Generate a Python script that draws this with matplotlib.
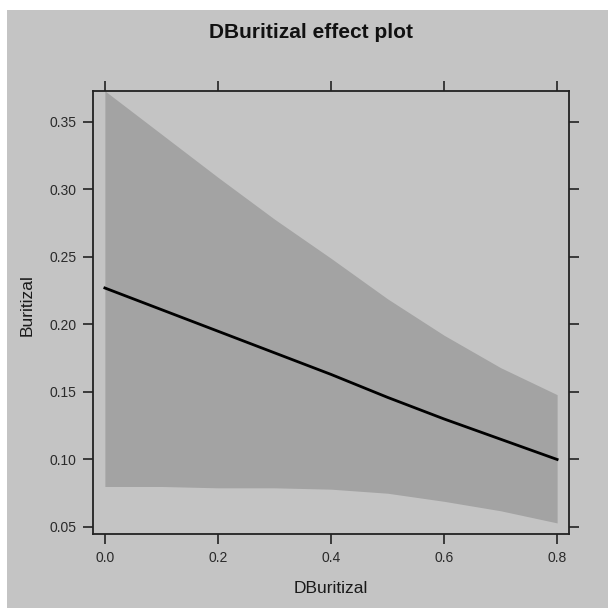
#!/usr/bin/env python3

"""
Effect plot of DBuritizal on Buritizal (fitted line with confidence band)
"""

import numpy as np
import matplotlib.pyplot as plt
from matplotlib.patches import Rectangle

plt.rcParams['font.family'] = ['Liberation Sans', 'DejaVu Sans']

# values
dburitizal = [0.0, 0.1, 0.2, 0.3, 0.4, 0.5, 0.6, 0.7, 0.8]
fit = [0.227, 0.211, 0.195, 0.179, 0.163, 0.146, 0.130, 0.115, 0.100]
upper = [0.373, 0.341, 0.309, 0.278, 0.249, 0.219, 0.192, 0.168, 0.148]
lower = [0.080, 0.080, 0.079, 0.079, 0.078, 0.075, 0.069, 0.062, 0.053]

xticks = [0.0, 0.2, 0.4, 0.6, 0.8]
yticks = [0.05, 0.10, 0.15, 0.20, 0.25, 0.30, 0.35]

bg = "#c4c4c4"
band = "#a3a3a3"

fig = plt.figure(figsize=(6.08, 6.08), dpi=100, facecolor="white")
# gray page with a thin white strip at the top and left, like the screenshot
fig.patches.append(Rectangle((7 / 608, 0), 1, 1 - 10 / 608, transform=fig.transFigure,
                             facecolor=bg, edgecolor="none", zorder=-10))

ax = fig.add_axes([93 / 608, 1 - 534 / 608, 476 / 608, 443 / 608])
ax.set_facecolor(bg)

ax.fill_between(dburitizal, lower, upper, color=band, linewidth=0)
ax.plot(dburitizal, fit, color="black", linewidth=2)

ax.set_xlim(-0.021, 0.821)
ax.set_ylim(0.0448, 0.3729)
ax.set_xticks(xticks)
ax.set_xticklabels([f"{v:.1f}" for v in xticks])
ax.set_yticks(yticks)
ax.set_yticklabels([f"{v:.2f}" for v in yticks])

for s in ax.spines.values():
    s.set_linewidth(1.3)
    s.set_color("#222222")

ax.tick_params(direction="out", length=7, width=1.2, color="#222222",
               top=True, right=True, labelsize=10, labelcolor="#2a2a2a", pad=5)

ax.set_xlabel("DBuritizal", fontsize=12.5, color="#1a1a1a")
ax.set_ylabel("Buritizal", fontsize=12.5, color="#1a1a1a")
ax.xaxis.set_label_coords(0.5, -0.124)
ax.yaxis.set_label_coords(-0.139, 0.517)
for lab in (ax.xaxis.label, ax.yaxis.label):
    lab.set_verticalalignment("center")

fig.text(311 / 608, 1 - 32 / 608, "DBuritizal effect plot", ha="center", va="center",
         fontsize=15, fontweight="bold", color="#111111")

fig.savefig("out.png", dpi=100, facecolor=fig.get_facecolor())
plt.close(fig)
